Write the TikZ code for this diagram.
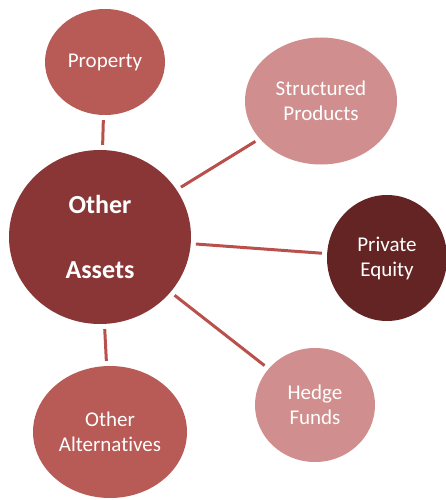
\documentclass[tikz,border=0pt]{standalone}
\usepackage{fontspec}
\setmainfont{Carlito}[Ligatures=NoCommon]
\usepackage{tikz}
\usetikzlibrary{shapes.geometric}
\definecolor{mydarkred}{HTML}{8A3636}
\definecolor{mymidred}{HTML}{B85A55}
\definecolor{mylightred}{HTML}{D08F8E}
\definecolor{mydeepred}{HTML}{632423}
\definecolor{mylinkred}{HTML}{B9504C}
\tikzset{
	defaultnode/.style={
			ellipse,
			draw=none,
			text=white,
			align=center,
			inner sep=0pt,
			font=\fontsize{21}{25}\selectfont
		},
	centernode/.style={
			defaultnode,
			fill=mydarkred,
			font=\fontsize{26}{31}\selectfont\bfseries
		},
	midnode/.style={
			defaultnode,
			fill=mymidred
		},
	lightnode/.style={
			defaultnode,
			fill=mylightred
		},
	deepnode/.style={
			defaultnode,
			fill=mydeepred
		},
	linknode/.style={
			draw=mylinkred,
			line width=3pt,
			shorten <=5pt,
			shorten >=5pt
		}
}

\begin{document}
\begin{tikzpicture}[x=1pt, y=-1pt]
				\useasboundingbox (0,0) rectangle (446,500);

				\node[centernode, minimum width=182pt, minimum height=174pt] at (100,237) (assets) {Other\\[34pt]Assets};

				\node[midnode, minimum width=120pt, minimum height=106pt] at (105,62) (property) {Property};
				\node[lightnode, minimum width=152pt, minimum height=127pt] at (321,101) (structured) {Structured\\Products};
				\node[deepnode, minimum width=120pt, minimum height=126pt] at (387,258) (private) {Private\\Equity};
				\node[lightnode, minimum width=120pt, minimum height=114pt] at (315,405) (hedge) {Hedge\\Funds};
				\node[midnode, minimum width=154pt, minimum height=132pt] at (110,432) (alternatives) {Other\\Alternatives};

				\draw[linknode] (assets) -- (property);
				\draw[linknode] (assets) -- (structured);
				\draw[linknode] (assets) -- (private);
				\draw[linknode] (assets) -- (hedge);
				\draw[linknode] (assets) -- (alternatives);
			\end{tikzpicture}
\end{document}
